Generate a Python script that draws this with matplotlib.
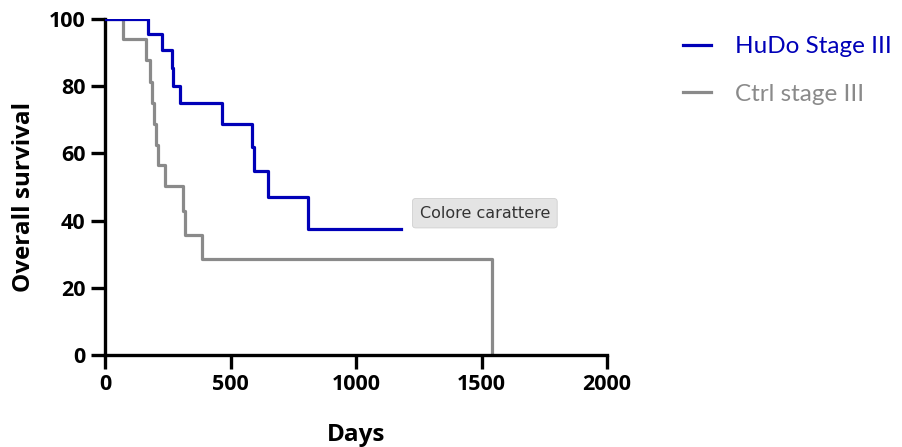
import matplotlib
matplotlib.use("Agg")
import matplotlib.pyplot as plt

# Kaplan-Meier step data
hudo_days = [0, 172, 226, 267, 272, 299, 467, 587, 594, 651, 810, 1178]
hudo_surv = [100, 95.5, 90.9, 85.3, 80.2, 75.0, 68.7, 62.0, 54.7, 47.0, 37.5, 37.5]

ctrl_days = [0, 73, 162, 179, 186, 197, 203, 212, 239, 312, 319, 385, 1543, 1543]
ctrl_surv = [100, 94.1, 87.8, 81.3, 75.0, 68.8, 62.6, 56.5, 50.3, 42.8, 35.8, 28.7, 0, 0]

x_ticks = [0, 500, 1000, 1500, 2000]
y_ticks = [0, 20, 40, 60, 80, 100]

blue = "#0000b8"
grey = "#8a8a8a"
bold_font = "Open Sans"

fig = plt.figure(figsize=(9.02, 4.47), dpi=100)
ax = fig.add_axes([0.1164, 0.206, 0.5566, 0.7515])

ax.step(hudo_days, hudo_surv, where="post", color=blue, lw=2.3, label="HuDo Stage III", zorder=3)
ax.step(ctrl_days, ctrl_surv, where="post", color=grey, lw=2.3, label="Ctrl stage III", zorder=2)

ax.set_xlim(0, 2000)
ax.set_ylim(0, 100)
ax.set_xticks(x_ticks)
ax.set_yticks(y_ticks)
for s in ["top", "right"]:
    ax.spines[s].set_visible(False)
for s in ["left", "bottom"]:
    ax.spines[s].set_linewidth(2.4)
ax.tick_params(direction="out", length=10, width=2.4, pad=4)
for lab in ax.get_xticklabels() + ax.get_yticklabels():
    lab.set_fontfamily(bold_font)
    lab.set_fontweight("bold")
    lab.set_fontsize(15.5)

ax.set_xlabel("Days", fontfamily=bold_font, fontweight="bold", fontsize=17.5, labelpad=20)
ax.set_ylabel("Overall survival", fontfamily=bold_font, fontweight="bold", fontsize=17.5)
ax.yaxis.set_label_coords(-0.137, 0.47)

leg = fig.legend(loc="upper left", bbox_to_anchor=(0.733, 0.968), frameon=False,
                 handlelength=1.15, handletextpad=1.0, labelspacing=1.1,
                 prop={"family": "Lato", "size": 17.5}, labelcolor="linecolor")

# tooltip left over in the screenshot
fig.text(0.5375, 0.523, "Colore carattere", ha="center", va="center", fontsize=11.5,
         color="#333333", fontfamily="DejaVu Sans",
         bbox=dict(boxstyle="round,pad=0.45,rounding_size=0.2", fc="#e4e4e4", ec="#d0d0d0", lw=0.6))

fig.savefig("out.png", dpi=100)
